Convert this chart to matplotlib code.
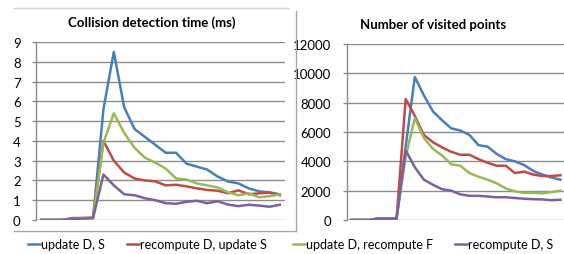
import matplotlib
matplotlib.use("Agg")
import matplotlib.pyplot as plt
from matplotlib.lines import Line2D
import numpy as np

plt.rcParams['font.family'] = ['Lato', 'DejaVu Sans']

series_names = ["update D, S", "recompute D, update S", "update D, recompute F", "recompute D, S"]
colors = ["#4A7EBB", "#BE4B48", "#98B954", "#7D60A0"]

# Collision detection time (ms)
time_update_DS = [0, 0, 0, 0.05, 0.1, 0.1, 5.6, 8.5, 5.7, 4.6, 4.2, 3.8, 3.4, 3.4, 2.85, 2.7, 2.55, 2.2,
                  1.95, 1.85, 1.6, 1.45, 1.4, 1.3]
time_recompD_updS = [0, 0, 0, 0.1, 0.1, 0.12, 4.0, 3.0, 2.4, 2.1, 2.0, 1.95, 1.75, 1.78, 1.7, 1.6, 1.52, 1.48,
                     1.35, 1.5, 1.3, 1.35, 1.38, 1.25]
time_updD_recompF = [0, 0, 0, 0.05, 0.08, 0.1, 3.9, 5.4, 4.4, 3.65, 3.15, 2.9, 2.6, 2.1, 2.05, 1.85, 1.75, 1.65,
                     1.4, 1.25, 1.35, 1.15, 1.2, 1.3]
time_recomp_DS = [0, 0, 0, 0.05, 0.07, 0.1, 2.3, 1.75, 1.3, 1.25, 1.1, 1.0, 0.85, 0.82, 0.92, 0.97, 0.85, 0.95,
                  0.78, 0.7, 0.77, 0.73, 0.67, 0.77]

# Number of visited points
pts_update_DS = [0, 0, 0, 100, 100, 100, 5000, 9750, 8500, 7400, 6800, 6250, 6100, 5800, 5100, 5000, 4500, 4150,
                 4000, 3750, 3350, 3100, 2900, 2750]
pts_recompD_updS = [0, 0, 0, 100, 100, 100, 8250, 7100, 5800, 5300, 4950, 4650, 4450, 4450, 4150, 3900, 3700, 3700,
                    3200, 3300, 3100, 3000, 3000, 3050]
pts_updD_recompF = [0, 0, 0, 100, 100, 100, 4300, 6950, 5600, 4850, 4400, 3800, 3700, 3200, 2950, 2750, 2500, 2150,
                    1950, 1850, 1850, 1820, 1900, 2000]
pts_recomp_DS = [0, 0, 0, 100, 100, 100, 4750, 3600, 2750, 2400, 2100, 2000, 1750, 1650, 1650, 1600, 1550, 1550,
                 1500, 1450, 1420, 1400, 1350, 1380]

left_title = "Collision detection time (ms)"
right_title = "Number of visited points"
left_ticks = list(range(0, 10))
right_ticks = list(range(0, 12001, 2000))

W, H = 564, 255
fig = plt.figure(figsize=(W / 100, H / 100), dpi=100)

def px_axes(x0, x1, ytop, ybot):
    return fig.add_axes([x0 / W, (H - ybot) / H, (x1 - x0) / W, (ybot - ytop) / H])

axL = px_axes(36, 285, 43, 221)
axR = px_axes(346.5, 565, 45, 221)

grid_c = "#8C8C8C"
for ax, data, ticks, title in [
    (axL, [time_update_DS, time_recompD_updS, time_updD_recompF, time_recomp_DS], left_ticks, left_title),
    (axR, [pts_update_DS, pts_recompD_updS, pts_updD_recompF, pts_recomp_DS], right_ticks, right_title),
]:
    n = len(data[0])
    x = np.arange(n)
    for vals, c, name in zip(data, colors, series_names):
        ax.plot(x, vals, color=c, lw=1.8, label=name, solid_joinstyle='round')
    ax.set_xlim(-0.5, n - 0.5)
    ax.set_ylim(ticks[0], ticks[-1])
    ax.set_yticks(ticks)
    ax.set_xticks([])
    for sp in ["top", "right", "bottom"]:
        ax.spines[sp].set_visible(False)
    ax.spines["left"].set_color(grid_c)
    ax.spines["left"].set_linewidth(1.0)
    ax.yaxis.grid(True, color=grid_c, lw=1.0)
    ax.set_axisbelow(True)
    ax.tick_params(axis='y', length=3, width=1.0, color=grid_c, pad=8, labelsize=9.5, labelcolor="#000000")
    ax.patch.set_alpha(0)

fig.text(151.5 / W, 1 - 23 / H, left_title, ha='center', va='center', fontsize=9.5, fontweight='bold')
fig.text(433.5 / W, 1 - 25 / H, right_title, ha='center', va='center', fontsize=9.5, fontweight='bold')

# chart frame lines
def fline(x0, y0, x1, y1, c, lw=1.0):
    fig.add_artist(Line2D([x0 / W, x1 / W], [1 - y0 / H, 1 - y1 / H], color=c, lw=lw, transform=fig.transFigure))

fline(14, 9, 289, 9, "#D0D0D0")
fline(14, 232, 295.5, 232, "#A6A6A6")
fline(295.5, 12, 295.5, 232, "#A6A6A6")

# legend row (manually placed entries)
leg_handle_x = [28, 127, 293, 455]
for hx, c, name in zip(leg_handle_x, colors, series_names):
    fline(hx, 245, hx + 12, 245, c, lw=1.8)
    fig.text((hx + 13) / W, 1 - 245 / H, name, ha='left', va='center', fontsize=9)

fig.savefig("out.png", dpi=100)
